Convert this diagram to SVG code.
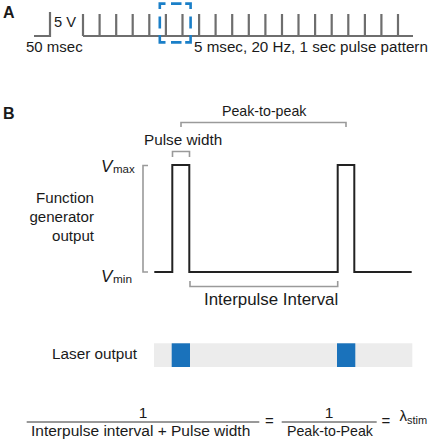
<svg xmlns="http://www.w3.org/2000/svg" width="433" height="440" viewBox="0 0 433 440">
<style>
text{font-family:"Liberation Sans",Arial,Helvetica,sans-serif;fill:#1a1a1a}
.lbl{font-weight:bold;font-size:16px}
.train{stroke:#6e6e6e;stroke-width:2.2;fill:none}
.brk{stroke:#9a9a9a;stroke-width:1.6;fill:none}
.wave{stroke:#222;stroke-width:2;fill:none;stroke-linejoin:miter}
.blue{fill:#1a72bb}
.dash{stroke:#1a7fc8;stroke-width:2.6;fill:none;stroke-linejoin:miter}
</style>
<rect width="433" height="440" fill="#fff"/>
<g id="panelA">
<text class="lbl" x="3" y="18">A</text>
<g id="scalebar">
<polyline class="train" points="34,36 50,36 50,12"/>
<text x="54" y="27" font-size="14.7">5 V</text>
<text x="26" y="52" font-size="15">50 msec</text>
</g>
<g id="pulsetrain">
<line class="train" x1="83" y1="36" x2="413" y2="36"/>
<path class="train" d="M83,36V14M99.6,36V14M116.2,36V14M132.7,36V14M149.3,36V14M165.9,36V14M182.5,36V14M199.1,36V14M215.6,36V14M232.2,36V14M248.8,36V14M265.4,36V14M282,36V14M298.5,36V14M315.1,36V14M331.7,36V14M348.3,36V14M364.9,36V14M381.4,36V14M398,36V14"/>
</g>
<g id="highlight">
<path class="dash" d="M159.8,9V3.6H165.5M171,3.6H181.5M185.2,3.6H190.6V9M190.6,16.5V28.5M190.6,35V42.4H185.2M181.5,42.4H171M165.5,42.4H159.8V35M159.8,28.5V16.5"/>
</g>
<text x="194" y="52" font-size="15.2">5 msec, 20 Hz, 1 sec pulse pattern</text>
</g>
<g id="panelB">
<text class="lbl" x="3" y="119">B</text>
<g id="peak-to-peak">
<polyline class="brk" points="181,127 181,122.5 346,122.5 346,127"/>
<text x="222" y="116" font-size="14.2">Peak-to-peak</text>
</g>
<g id="pulse-width">
<polyline class="brk" points="172.5,157 172.5,151.5 189.5,151.5 189.5,157"/>
<text x="144" y="145" font-size="15.3">Pulse width</text>
</g>
<g id="vrange">
<polyline class="brk" points="148,165.5 143,165.5 143,272 148,272"/>
<text x="101" y="171.7" font-size="17" font-style="italic">V</text>
<text x="113" y="172.5" font-size="11.5">max</text>
<text x="101" y="281.7" font-size="17" font-style="italic">V</text>
<text x="113" y="282.5" font-size="11.8">min</text>
</g>
<g id="fg-label">
<text x="94" y="202.7" font-size="15.1" text-anchor="end">Function</text>
<text x="94" y="221.7" font-size="15.1" text-anchor="end">generator</text>
<text x="94" y="240.7" font-size="15.1" text-anchor="end">output</text>
</g>
<path id="waveform" class="wave" d="M154.3,272H172.3V165H189.3V272H337.7V165H354.3V272H411.7"/>
<g id="interpulse">
<polyline class="brk" points="190,281 190,286.5 337.7,286.5 337.7,281"/>
<text x="204" y="305" font-size="16.9">Interpulse Interval</text>
</g>
<g id="laser">
<text x="52" y="359.3" font-size="15.3">Laser output</text>
<rect x="154" y="343.3" width="258.3" height="23.7" fill="#ececec"/>
<rect class="blue" x="171.7" y="343.3" width="18.3" height="23.7"/>
<rect class="blue" x="337" y="343.3" width="18.3" height="23.7"/>
</g>
<g id="equation">
<text x="143" y="417.7" font-size="15.5" text-anchor="middle">1</text>
<line x1="26.7" y1="422" x2="259.3" y2="422" stroke="#333" stroke-width="1"/>
<text x="31" y="435.5" font-size="15.5">Interpulse interval + Pulse width</text>
<text x="269.5" y="425.5" font-size="15" text-anchor="middle">=</text>
<text x="329" y="417.7" font-size="15.5" text-anchor="middle">1</text>
<line x1="281.7" y1="422" x2="376.7" y2="422" stroke="#333" stroke-width="1"/>
<text x="287" y="435.5" font-size="14.2">Peak-to-Peak</text>
<text x="386" y="425.5" font-size="15" text-anchor="middle">=</text>
<text x="399.5" y="420.5" font-size="15">λ</text>
<text x="407" y="424" font-size="11">stim</text>
</g>
</g>
</svg>
